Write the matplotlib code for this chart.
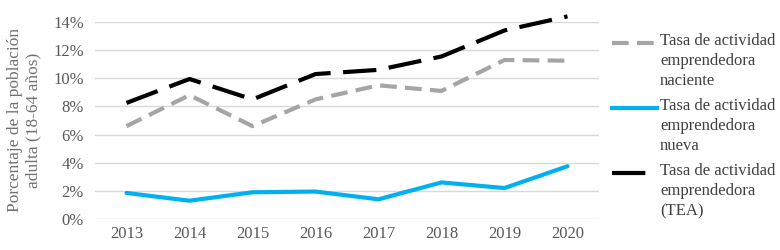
import matplotlib.pyplot as plt
from matplotlib.lines import Line2D

years = ['2013', '2014', '2015', '2016', '2017', '2018', '2019', '2020']
# porcentajes (%)
naciente = [6.6, 8.8, 6.6, 8.5, 9.5, 9.1, 11.3, 11.25]
nueva = [1.85, 1.3, 1.9, 1.95, 1.4, 2.6, 2.2, 3.75]
tea = [8.25, 9.95, 8.5, 10.3, 10.6, 11.55, 13.4, 14.4]

labels = ['Tasa de actividad\nemprendedora\nnaciente',
          'Tasa de actividad\nemprendedora\nnueva',
          'Tasa de actividad\nemprendedora\n(TEA)']

plt.rcParams['font.family'] = ['Liberation Serif', 'DejaVu Serif']
txt_color = '#595959'

fig = plt.figure(figsize=(7.8, 2.5), dpi=100)
ax = fig.add_axes([95 / 780, 31 / 250, 504 / 780, 197 / 250])

x = range(len(years))
ax.plot(x, naciente, color='#A5A5A5', lw=3, dashes=(4, 2), zorder=3, clip_on=False)
ax.plot(x, nueva, color='#00B0F0', lw=3, solid_capstyle='round', zorder=3, clip_on=False)
ax.plot(x, tea, color='black', lw=3, dashes=(8, 3), zorder=4, clip_on=False)

ax.set_xlim(-0.5, len(years) - 0.5)
ax.set_ylim(0, 14)
ax.set_yticks(range(0, 15, 2))
ax.set_yticklabels([f'{v}%' for v in range(0, 15, 2)])
ax.set_xticks(list(x))
ax.set_xticklabels(years)
ax.grid(axis='y', color='#D9D9D9', lw=1)
ax.set_axisbelow(True)
for s in ax.spines.values():
    s.set_visible(False)
ax.tick_params(length=0, labelsize=12, labelcolor=txt_color, pad=5)
ax.tick_params(axis='y', pad=8)

fig.text(24 / 780, 0.52, 'Porcentaje de la población\nadulta (18-64 años)',
         rotation=90, ha='center', va='center', fontsize=12.5,
         color='#707070', linespacing=1.2)

# legend drawn by hand so the handle sits on the first line of text
styles = [dict(color='#A5A5A5', lw=3, dashes=(4, 2)),
          dict(color='#00B0F0', lw=3),
          dict(color='black', lw=3, dashes=(8, 3))]
tops = [43, 108, 173]
for lab, st, yy in zip(labels, styles, tops):
    yf = 1 - yy / 250
    fig.add_artist(Line2D([612 / 780, 657 / 780], [yf, yf],
                          transform=fig.transFigure, **st))
    fig.text(660 / 780, 1 - (yy - 10) / 250, lab, ha='left', va='top',
             fontsize=12, color='#404040', linespacing=1.35)

fig.savefig('out.png', dpi=100)
